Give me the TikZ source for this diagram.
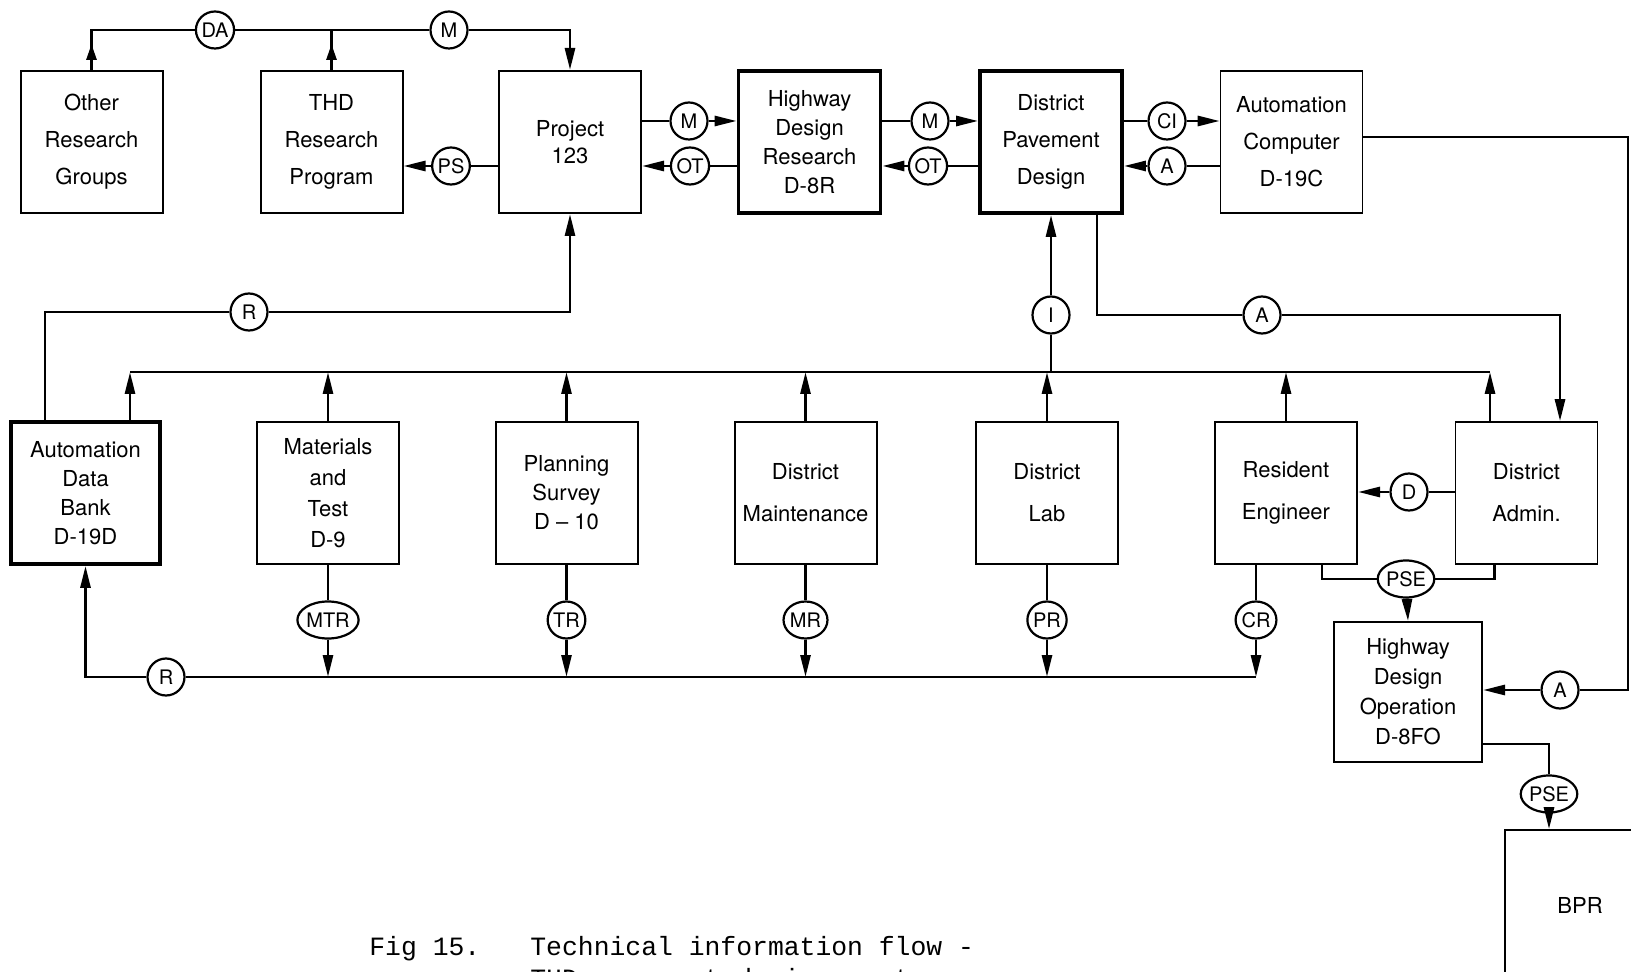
\documentclass[tikz,border=0pt]{standalone}
\usepackage{fontspec}
\setmainfont{TeX Gyre Heros}
\newfontfamily\typefont{Liberation Mono}
\usetikzlibrary{arrows.meta,shapes.geometric}
\tikzset{
  blk/.style={
    draw,
    line width=1pt,
    minimum width=71pt,
    minimum height=71pt,
    inner sep=0pt,
    align=center,
    font=\fontsize{11}{18.5}\selectfont
  },
  blkthick/.style={
    blk,
    line width=1.9pt
  },
  lsp/.style={
    font=\fontsize{11}{#1}\selectfont
  },
  tag/.style={
    draw,
    ellipse,
    line width=1.1pt,
    fill=white,
    inner sep=0pt,
    minimum width=18.5pt,
    minimum height=18.5pt,
    font=\fontsize{10}{12}\selectfont
  },
  flow/.style={
    line width=1.4pt
  },
  flowend/.style={
    flow,
    -{Triangle[length=11pt,width=5pt]}
  },
  flowup/.style={
    flow,
    -{Triangle[length=8pt,width=5pt]}
  },
  capt/.style={
    font=\typefont\fontsize{13.2}{16}\selectfont,
    inner sep=0pt
  }
}

\begin{document}
\begin{tikzpicture}[x=0.5pt,y=-0.5pt]
    \useasboundingbox (0,0) rectangle (1631,972);
    % top row
    \node[blk] (other) at (91.5,142) {Other\\Research\\Groups};
    \node[blk] (thd) at (331.5,142) {THD\\Research\\Program};
    \node[blk, lsp=13.5] (proj) at (570,142) {Project\\123};
    \node[blkthick, lsp=14.5] (hdr) at (809.5,142) {Highway\\Design\\Research\\D-8R};
    \node[blkthick] (dpd) at (1051,142) {District\\Pavement\\Design};
    \node[blk, line width=0.8pt] (adc) at (1291.5,142) {Automation\\Computer\\D-19C};
    % bottom row
    \node[blkthick, lsp=14.5, minimum width=74.5pt] (adb) at (85.5,493) {Automation\\Data\\Bank\\D-19D};
    \node[blk, lsp=15.5] (mat) at (328,493) {Materials\\and\\Test\\D-9};
    \node[blk, lsp=14.5] (pln) at (566.5,493) {Planning\\Survey\\D -- 10};
    \node[blk, lsp=21] (mnt) at (805.5,493) {District\\Maintenance};
    \node[blk, lsp=21, line width=0.8pt] (lab) at (1047,493) {District\\Lab};
    \node[blk, lsp=21] (res) at (1286,493) {Resident\\Engineer};
    \node[blk, lsp=21, line width=0.8pt] (adm) at (1526.5,493) {District\\Admin.};
    \node[blk, lsp=15, minimum width=74pt, minimum height=70pt] (hdo) at (1408,692) {Highway\\Design\\Operation\\D-8FO};
    \node[blk, line width=0.8pt, minimum width=75pt, minimum height=75pt] (bpr) at (1580,905) {BPR};

    % tags
    \node[tag] (da) at (215,30) {DA};
    \node[tag] (mtop) at (449,30) {M};
    \node[tag] (ps) at (451,166) {PS};
    \node[tag] (m1) at (689,121) {M};
    \node[tag] (ot1) at (690,166) {OT};
    \node[tag] (m2) at (930,121) {M};
    \node[tag] (ot2) at (928,166) {OT};
    \node[tag] (ci) at (1167,121) {CI};
    \node[tag] (a1) at (1167,166) {A};
    \node[tag] (rtop) at (249,312) {R};
    \node[tag] (i) at (1051,315) {I};
    \node[tag] (a2) at (1262,315) {A};
    \node[tag] (d) at (1409,492) {D};
    \node[tag] (pse1) at (1406,579) {PSE};
    \node[tag] (a3) at (1560,690) {A};
    \node[tag] (pse2) at (1549,794) {PSE};
    \node[tag] (mtr) at (328,620) {MTR};
    \node[tag] (tr) at (566.5,620) {TR};
    \node[tag] (mr) at (805.5,620) {MR};
    \node[tag] (pr) at (1047,620) {PR};
    \node[tag] (cr) at (1256,620) {CR};
    \node[tag] (rbot) at (166,677) {R};

    \coordinate (busL) at (130,372);
    \coordinate (busR) at (1490,372);
    \coordinate (rtc) at (1628,137);

    % top line
    \draw[flow] (other.north) -- (other.north |- da) -- (da) -- (mtop);
    \draw[flow] (thd.north) -- (thd.north |- da);
    \draw[flowup] (other.north) -- ([shift={(0,-26)}]other.north);
    \draw[flowup] (thd.north) -- ([shift={(0,-26)}]thd.north);
    \draw[flowend] (mtop) -| (proj.north);

    % between top boxes
    \draw[flowend] (proj.west |- ps) -- (ps) -- (thd.east |- ps);
    \draw[flowend] (proj.east |- m1) -- (m1) -- (hdr.west |- m1);
    \draw[flowend] (hdr.west |- ot1) -- (ot1) -- (proj.east |- ot1);
    \draw[flowend] (hdr.east |- m2) -- (m2) -- (dpd.west |- m2);
    \draw[flowend] (dpd.west |- ot2) -- (ot2) -- (hdr.east |- ot2);
    \draw[flowend] (dpd.east |- ci) -- (ci) -- (adc.west |- ci);
    \draw[flowend] (adc.west |- a1) -- (a1) -- (dpd.east |- a1);
    \draw[flowend] ([shift={(0,-5)}]adc.east) -- (rtc) |- (a3) -- (hdo.east |- a3);

    % returns to the top row
    \draw[flowend] ([shift={(-40.5,0)}]adb.north) |- (rtop) -| (proj.south);
    \draw[flowend] (i |- busL) -- (i) -- (dpd.south);
    \draw[flowend] ([shift={(46,0)}]dpd.south) |- (a2) -| ([shift={(33.5,0)}]adm.north);

    % upper bus
    \draw[flow] (busL) -- (busR);
    \draw[flowend] ([shift={(44.5,0)}]adb.north) -- (busL);
    \foreach \b in {mat,pln,mnt,lab,res}
        \draw[flowend] (\b.north) -- (\b.north |- busL);
    \draw[flowend] ([shift={(-36.5,0)}]adm.north) -- (busR);

    % lower bus
    \foreach \b/\t in {mat/mtr,pln/tr,mnt/mr,lab/pr}{
        \draw[flow] (\b.south) -- (\t);
        \draw[flowend] (\t) -- (\t |- rbot);
    }
    \draw[flow] ([shift={(-30,0)}]res.south) -- (cr);
    \draw[flowend] (cr) -- (cr |- rbot);
    \draw[flowend] (cr |- rbot) -- (rbot) -| (adb.south);

    % district
    \draw[flowend] (adm.west |- d) -- (d) -- (res.east |- d);
    \draw[flow] ([shift={(36,0)}]res.south) |- (pse1) -| ([shift={(-32,0)}]adm.south);
    \draw[flowend] (pse1) -- (hdo.north);
    \draw[flowend] ([shift={(0,52)}]hdo.east) -| (pse2) -- (pse2 |- bpr.north);

    % caption
    \node[capt, anchor=base west] (fig) at (369,955) {Fig 15.};
    \node[capt, anchor=base west] (cap1) at (530,955) {Technical information flow -};
    \node[capt, anchor=base west] (cap2) at (530,987) {THD pavement design system};
\end{tikzpicture}
\end{document}
